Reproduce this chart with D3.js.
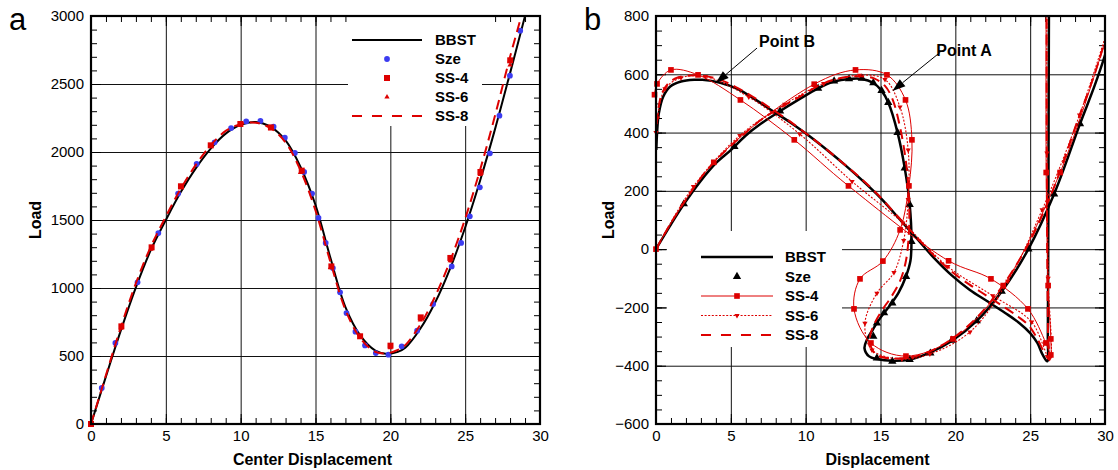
<!DOCTYPE html>
<html>
<head>
<meta charset="utf-8">
<script src="https://cdn.jsdelivr.net/npm/d3@7"></script>
<style>
  body { margin: 0; background: #fff; }
  svg { display: block; font-family: "Liberation Sans", Arial, Helvetica, sans-serif; }
</style>
</head>
<body>
<svg id="chart" width="1118" height="470"></svg>
<script>
// ---------- panel a: load vs center displacement ----------
const bbstA = [[0,0],[1,350],[2,690],[3,1005],[4,1280],[5,1500],[6,1705],[7,1880],[8,2025],[9,2135],[10,2200],[11,2220],[12,2185],[13,2085],[14,1890],[15,1610],[16,1220],[17,860],[18,650],[19,540],[19.8,515],[20.5,530],[21,560],[22,700],[23,895],[24,1145],[25,1445],[26,1790],[27,2170],[28,2580],[29,3000],[29.3,3130]];
const szeA = [[0,0],[0.72,265],[1.63,596],[3.11,1042],[4.5,1404],[5.82,1694],[7.06,1912],[8.26,2071],[9.36,2176],[10.37,2225],[11.32,2228],[12.2,2186],[12.95,2105],[13.62,1993],[14.24,1853],[14.77,1694],[15.2,1515],[15.68,1331],[16.16,1147],[16.64,968],[17.07,816],[17.67,679],[18.31,578],[19.03,522],[19.87,510],[20.76,571],[21.79,686],[22.86,882],[24.1,1159],[24.73,1331],[25.31,1527],[25.98,1740],[26.65,1990],[27.29,2267],[27.99,2561],[28.68,2892]];
const ss4A = [[0,0],[2.03,718],[4.05,1299],[6.01,1748],[8,2049],[9.98,2206],[12.02,2181],[14.08,1863],[16.06,1159],[17.98,645],[20.01,576],[22.03,784],[24.01,1221],[26.02,1853],[28.01,2674]];
const ss6A = [[2,705],[4,1285],[6,1738],[8,2040],[10,2200],[12,2172],[14,1850],[16,1150],[18,640],[20,560],[22,765],[24,1200],[26,1835],[28,2640]];
const ss8A = [[0,0],[1,360],[2,715],[3,1035],[4,1305],[5,1525],[6,1730],[7,1905],[8,2050],[9,2155],[10,2205],[11,2215],[12,2175],[13,2070],[14,1865],[15,1570],[16,1190],[17,840],[18,630],[19,530],[19.8,520],[20.5,545],[21,580],[22,730],[23,940],[24,1200],[25,1510],[26,1870],[27,2270],[28,2700],[28.75,3000],[29,3110]];

// ---------- panel b: load vs displacement (two branches per curve) ----------
const bbstB1 = [[0,0],[1,85],[1.9,157],[3,235],[4,295],[5,340],[6,390],[7,430],[8.3,474],[9.5,512],[10.83,552],[11.9,575],[12.9,584],[13.76,584],[14.5,571],[15.07,544],[15.52,503],[16.14,400],[16.62,278],[16.95,153],[17.07,30],[17,-40],[16.7,-94],[16.2,-150],[15.6,-195],[15,-235],[14.5,-275],[14.1,-310],[13.93,-340],[14.24,-368],[14.76,-377],[15.79,-383],[16.95,-379],[18.33,-354],[19.76,-315],[21.43,-246],[23.1,-145],[24.88,0],[26.6,189],[28.33,430],[29.3,560],[30,666],[30.5,760]];
const bbstB2 = [[26.26,900],[26.24,600],[26.22,200],[26.2,-100],[26.18,-300],[26.14,-385],[25.83,-362],[25.48,-322],[25,-288],[24.29,-254],[23.33,-219],[22.14,-179],[20.95,-139],[19.76,-90],[18.57,-30],[17.38,39],[16.19,108],[15,176],[13.8,235],[12.62,289],[11.43,340],[10.24,388],[9.05,432],[7.86,472],[6.67,512],[5.48,549],[4.29,571],[3.1,581],[2.6,581],[1.67,575],[0.95,558],[0.48,523],[0.19,466],[0.07,398],[0.02,340]];
const szeB = [[1.86,155],[5.24,352],[8.29,474],[10.83,552],[11.9,577],[12.9,584],[13.76,586],[14.52,571],[15.07,544],[15.52,503],[16.14,400],[16.62,278],[16.95,153],[17.07,26],[16.71,-94],[15.79,-185],[15.24,-219],[14.76,-254],[14.52,-299],[14.76,-374],[15.79,-385],[16.95,-379],[18.33,-357],[19.76,-313],[21.43,-246],[23.1,-145],[24.88,0],[26.6,189],[28.33,430]];
const ss4B1 = [[0,0],[3.86,298],[10.57,566],[13.33,615],[15.43,598],[16.67,512],[17.1,375],[16.9,217],[16.31,66],[15.16,-41],[13.63,-102],[13.23,-205],[14.36,-322],[16.7,-367],[19.84,-308],[23.2,-125],[27,263],[30.3,760]];
const ss4B2 = [[26.07,900],[26.07,263],[26.2,-125],[26.38,-308],[26.38,-363],[26.05,-322],[24.85,-205],[22.38,-102],[19.55,-40],[12.86,217],[9.24,375],[5.64,512],[2.81,598],[1,615],[0.07,567],[-0.1,530]];
const ss6B1 = [[0,0],[2.5,215],[5.6,390],[8.6,497],[11.2,568],[13.6,597],[15.3,582],[16.3,488],[16.85,340],[16.85,170],[16.55,30],[15.9,-80],[14.76,-151],[13.96,-254],[14.43,-346],[16.43,-377],[18.3,-360],[20.98,-284],[23.5,-110],[25.8,135],[28.3,460],[30.4,790]];
const ss6B2 = [[26.12,900],[26.12,330],[26.2,-100],[26.3,-375],[25.1,-250],[22.5,-160],[19.5,-60],[16.5,90],[13.1,232],[9.6,395],[6.2,522],[3.3,592],[1.67,588],[0.6,550],[0.1,450],[0,400]];
const ss8B1 = [[0,0],[1,90],[2,170],[3,245],[4,305],[5,355],[6,400],[7,443],[8.3,485],[9.5,520],[10.83,560],[11.9,582],[12.9,592],[13.76,593],[14.6,585],[15.3,560],[15.8,515],[16.3,420],[16.7,300],[16.9,180],[16.9,60],[16.7,-40],[16.3,-110],[15.7,-165],[15.1,-210],[14.6,-255],[14.3,-300],[14.4,-340],[14.8,-365],[15.8,-375],[16.95,-372],[18.33,-350],[19.76,-308],[21.43,-235],[23.1,-130],[24.8,10],[26.5,200],[28.2,445],[29.3,600],[30,715],[30.4,790]];
const ss8B2 = [[26.1,900],[26.1,600],[26.12,200],[26.15,-100],[26.2,-300],[26.25,-378],[25.9,-350],[25.45,-305],[24.9,-262],[24.2,-232],[23.3,-200],[22.1,-160],[20.9,-120],[19.7,-75],[18.5,-18],[17.3,48],[16.1,115],[14.9,183],[13.7,242],[12.5,295],[11.3,346],[10.1,394],[8.9,440],[7.7,482],[6.5,522],[5.3,557],[4.2,583],[3.1,595],[2.3,596],[1.5,590],[0.85,570],[0.4,535],[0.15,480],[0.03,420]];

// annotations: tail (where the label sits) and tip (arrow head)
const notesB = [
  { label: "Point B", tail: [6.75, 690], tip: [4.0, 570] },
  { label: "Point A", tail: [19.0, 676], tip: [15.8, 543] }
];

const xMajor = [0, 5, 10, 15, 20, 25, 30];
const xGrid = [5, 10, 15, 20, 25];
const yMajorA = [0, 500, 1000, 1500, 2000, 2500, 3000];
const yGridA = [500, 1000, 1500, 2000, 2500];
const yMajorB = [-600, -400, -200, 0, 200, 400, 600, 800];
const yGridB = [-400, -200, 0, 200, 400, 600];

const red = "#dd0000";
const blue = "#3c3cf0";
const svg = d3.select("#chart");

const curve = d3.curveCatmullRom.alpha(0.5);

function markerPath(type, size) {
  if (type === "circle") return d3.symbol(d3.symbolCircle, size)();
  if (type === "square") return d3.symbol(d3.symbolSquare, size)();
  return d3.symbol(d3.symbolTriangle, size)();
}

function makePanel(p) {
  const x = d3.scaleLinear().domain(p.xDomain).range([p.left, p.right]);
  const y = d3.scaleLinear().domain(p.yDomain).range([p.bottom, p.top]);
  const w = p.right - p.left, h = p.bottom - p.top;
  const g = svg.append("g");

  // grid lines
  g.append("g")
    .attr("transform", "translate(0," + p.bottom + ")")
    .call(d3.axisBottom(x).tickValues(xGrid).tickSize(-h).tickFormat(""))
    .call(s => s.select(".domain").remove())
    .selectAll("line").attr("stroke", "#111").attr("stroke-width", 1);
  g.append("g")
    .attr("transform", "translate(" + p.left + ",0)")
    .call(d3.axisLeft(y).tickValues(p.yGrid).tickSize(-w).tickFormat(""))
    .call(s => s.select(".domain").remove())
    .selectAll("line").attr("stroke", "#111").attr("stroke-width", 1);

  // minor ticks (inside, on all four sides)
  const xMinor = d3.range(p.xDomain[0], p.xDomain[1] + 0.001, 1);
  const yMinor = d3.range(p.yDomain[0], p.yDomain[1] + 0.001, p.yMinorStep);
  const tickGroups = [
    [d3.axisBottom(x).tickValues(xMinor), "translate(0," + p.bottom + ")"],
    [d3.axisTop(x).tickValues(xMinor), "translate(0," + p.top + ")"],
    [d3.axisLeft(y).tickValues(yMinor), "translate(" + p.left + ",0)"],
    [d3.axisRight(y).tickValues(yMinor), "translate(" + p.right + ",0)"]
  ];
  tickGroups.forEach(([ax, tr]) => {
    g.append("g").attr("transform", tr)
      .call(ax.tickSize(-6).tickFormat(""))
      .call(s => s.select(".domain").remove());
  });
  const majorGroups = [
    [d3.axisTop(x).tickValues(xMajor), "translate(0," + p.top + ")"],
    [d3.axisRight(y).tickValues(p.yMajor), "translate(" + p.right + ",0)"]
  ];
  majorGroups.forEach(([ax, tr]) => {
    g.append("g").attr("transform", tr)
      .call(ax.tickSize(-10).tickFormat(""))
      .call(s => s.select(".domain").remove());
  });

  // labelled axes
  g.append("g").attr("transform", "translate(0," + p.bottom + ")")
    .call(d3.axisBottom(x).tickValues(xMajor).tickSize(-10).tickPadding(6).tickFormat(d3.format("d")))
    .call(s => s.select(".domain").remove())
    .call(s => s.selectAll("text").attr("font-size", 15).attr("font-family", "Liberation Sans, Arial, sans-serif").attr("fill", "#000"));
  g.append("g").attr("transform", "translate(" + p.left + ",0)")
    .call(d3.axisLeft(y).tickValues(p.yMajor).tickSize(-10).tickPadding(7).tickFormat(d3.format("d")))
    .call(s => s.select(".domain").remove())
    .call(s => s.selectAll("text").attr("font-size", 15).attr("font-family", "Liberation Sans, Arial, sans-serif").attr("fill", "#000"));

  // legend background hides the grid
  g.append("rect")
    .attr("x", p.legend.x).attr("y", p.legend.y)
    .attr("width", p.legend.w).attr("height", p.legend.h)
    .attr("fill", "#fff");

  // clip for curves
  const clipId = "clip-" + p.name;
  svg.append("clipPath").attr("id", clipId)
    .append("rect")
    .attr("x", p.left - 5).attr("y", p.top - 1)
    .attr("width", w + 6).attr("height", h + 6);
  const plot = g.append("g").attr("clip-path", "url(#" + clipId + ")");

  // axis titles
  g.append("text")
    .attr("x", (p.left + p.right) / 2 - 3).attr("y", 465)
    .attr("text-anchor", "middle")
    .attr("font-size", 16).attr("font-weight", "bold")
    .text(p.xTitle);
  g.append("text")
    .attr("transform", "translate(" + p.yTitleX + "," + ((p.top + p.bottom) / 2) + ") rotate(-90)")
    .attr("text-anchor", "middle")
    .attr("font-size", 16).attr("font-weight", "bold")
    .text("Load");
  g.append("text")
    .attr("x", p.tagX).attr("y", 30)
    .attr("font-size", 31)
    .text(p.tag);

  return { g, plot, x, y, p };
}

function drawLine(panel, data, stroke, width, dash) {
  const line = d3.line().x(d => panel.x(d[0])).y(d => panel.y(d[1])).curve(curve);
  panel.plot.append("path")
    .datum(data)
    .attr("d", line)
    .attr("fill", "none")
    .attr("stroke", stroke)
    .attr("stroke-width", width)
    .attr("stroke-dasharray", dash || null)
    .attr("stroke-linejoin", "round");
}

function drawMarks(panel, data, type, size, fill, rotate) {
  panel.plot.append("g")
    .selectAll("path")
    .data(data)
    .join("path")
    .attr("d", markerPath(type, size))
    .attr("transform", d => "translate(" + panel.x(d[0]) + "," + panel.y(d[1]) + ")" + (rotate ? " rotate(180)" : ""))
    .attr("fill", fill);
}

function drawLegend(panel, items) {
  const L = panel.p.legend;
  items.forEach((it, i) => {
    const yy = L.row0 + i * L.rowStep;
    const lg = panel.g.append("g");
    if (it.line) {
      lg.append("line")
        .attr("x1", L.lineX1).attr("x2", L.lineX2)
        .attr("y1", yy).attr("y2", yy)
        .attr("stroke", it.line.stroke)
        .attr("stroke-width", it.line.width)
        .attr("stroke-dasharray", it.line.dash || null);
    }
    if (it.mark) {
      lg.append("path")
        .attr("d", markerPath(it.mark.type, it.mark.size))
        .attr("transform", "translate(" + L.markX + "," + yy + ")" + (it.mark.rotate ? " rotate(180)" : ""))
        .attr("fill", it.mark.fill);
    }
    lg.append("text")
      .attr("x", L.textX).attr("y", yy)
      .attr("dy", "0.36em")
      .attr("font-size", 15).attr("font-weight", "bold")
      .text(it.label);
  });
}

function drawFrame(panel) {
  const p = panel.p;
  panel.g.append("rect")
    .attr("x", p.left).attr("y", p.top)
    .attr("width", p.right - p.left).attr("height", p.bottom - p.top)
    .attr("fill", "none").attr("stroke", "#000").attr("stroke-width", 2.2);
}

// ---------- panel a ----------
const A = makePanel({
  name: "a", tag: "a", tagX: 9,
  left: 91, right: 540, top: 16, bottom: 424,
  xDomain: [0, 30], yDomain: [0, 3000],
  yMajor: yMajorA, yGrid: yGridA, yMinorStep: 100,
  xTitle: "Center Displacement", yTitleX: 41,
  legend: { x: 348, y: 17, w: 134, h: 109, row0: 40, rowStep: 19, lineX1: 352, lineX2: 422, markX: 387, textX: 435 }
});
drawLine(A, bbstA, "#000", 2);
drawMarks(A, szeA, "circle", 26, blue);
drawMarks(A, ss6A, "triangle", 12, red);
drawMarks(A, ss4A, "square", 36, red);
drawLine(A, ss8A, red, 2, "10,6");
drawLegend(A, [
  { label: "BBST", line: { stroke: "#000", width: 2 } },
  { label: "Sze", mark: { type: "circle", size: 26, fill: blue } },
  { label: "SS-4", mark: { type: "square", size: 36, fill: red } },
  { label: "SS-6", mark: { type: "triangle", size: 12, fill: red } },
  { label: "SS-8", line: { stroke: red, width: 2, dash: "10,10" } }
]);
drawFrame(A);

// ---------- panel b ----------
const B = makePanel({
  name: "b", tag: "b", tagX: 584,
  left: 656, right: 1105, top: 16, bottom: 424,
  xDomain: [0, 30], yDomain: [-600, 800],
  yMajor: yMajorB, yGrid: yGridB, yMinorStep: 50,
  xTitle: "Displacement", yTitleX: 614,
  legend: { x: 667, y: 231, w: 175, h: 116, row0: 257, rowStep: 19.5, lineX1: 701, lineX2: 773, markX: 737, textX: 785 }
});
[bbstB1, bbstB2].forEach(d => drawLine(B, d, "#000", 2.5));
drawMarks(B, szeB, "triangle", 30, "#000");
[ss4B1, ss4B2].forEach(d => drawLine(B, d, red, 1));
[ss4B1, ss4B2].forEach(d => drawMarks(B, d, "square", 32, red));
[ss6B1, ss6B2].forEach(d => drawLine(B, d, red, 1.1, "2,1.6"));
[ss6B1, ss6B2].forEach(d => drawMarks(B, d, "triangle", 12, red, true));
[ss8B1, ss8B2].forEach(d => drawLine(B, d, red, 2, "10,6"));
drawLegend(B, [
  { label: "BBST", line: { stroke: "#000", width: 2.5 } },
  { label: "Sze", mark: { type: "triangle", size: 30, fill: "#000" } },
  { label: "SS-4", line: { stroke: red, width: 1 }, mark: { type: "square", size: 32, fill: red } },
  { label: "SS-6", line: { stroke: red, width: 1.1, dash: "2,1.6" }, mark: { type: "triangle", size: 12, fill: red, rotate: true } },
  { label: "SS-8", line: { stroke: red, width: 2, dash: "10,10" } }
]);

// arrows for Point A / Point B
notesB.forEach(n => {
  const tx = B.x(n.tail[0]), ty = B.y(n.tail[1]);
  const hx = B.x(n.tip[0]), hy = B.y(n.tip[1]);
  const ang = Math.atan2(hy - ty, hx - tx);
  const len = 13, half = 4.5;
  const bx = hx - len * Math.cos(ang), by = hy - len * Math.sin(ang);
  B.g.append("line")
    .attr("x1", tx).attr("y1", ty).attr("x2", bx).attr("y2", by)
    .attr("stroke", "#000").attr("stroke-width", 1);
  B.g.append("path")
    .attr("d", d3.line()([
      [hx, hy],
      [bx + half * Math.sin(ang), by - half * Math.cos(ang)],
      [bx - half * Math.sin(ang), by + half * Math.cos(ang)]
    ]) + "Z")
    .attr("fill", "#000");
  B.g.append("text")
    .attr("x", tx + (n.label === "Point A" ? -4 : 2))
    .attr("y", ty + (n.label === "Point A" ? 4 : -1))
    .attr("font-size", 16).attr("font-weight", "bold")
    .text(n.label);
});
drawFrame(B);
</script>
</body>
</html>
